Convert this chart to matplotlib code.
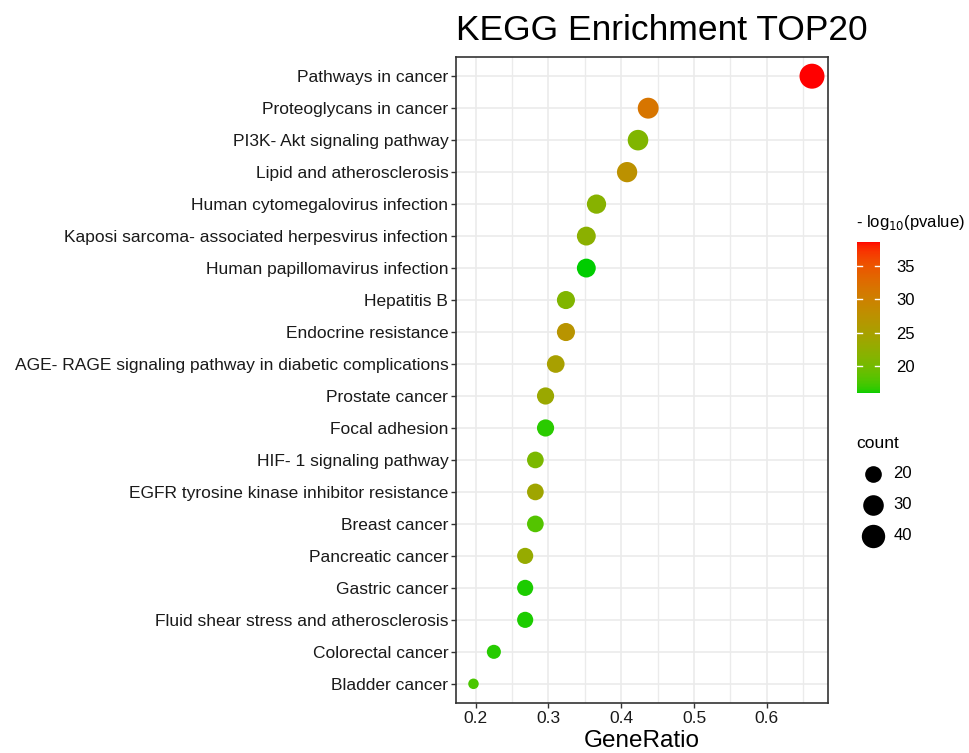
import matplotlib
matplotlib.use("Agg")
import matplotlib.pyplot as plt
import numpy as np
from matplotlib.colors import ListedColormap, Normalize, to_rgb

plt.rcParams['font.family'] = ['Liberation Sans', 'DejaVu Sans']

# data, top row first
terms = ["Pathways in cancer", "Proteoglycans in cancer", "PI3K- Akt signaling pathway",
         "Lipid and atherosclerosis", "Human cytomegalovirus infection",
         "Kaposi sarcoma- associated herpesvirus infection", "Human papillomavirus infection",
         "Hepatitis B", "Endocrine resistance",
         "AGE- RAGE signaling pathway in diabetic complications", "Prostate cancer",
         "Focal adhesion", "HIF- 1 signaling pathway",
         "EGFR tyrosine kinase inhibitor resistance", "Breast cancer", "Pancreatic cancer",
         "Gastric cancer", "Fluid shear stress and atherosclerosis", "Colorectal cancer",
         "Bladder cancer"]
counts = [47, 31, 30, 29, 26, 25, 25, 23, 23, 22, 21, 21, 20, 20, 20, 19, 19, 19, 16, 14]
gene_ratio = [0.662, 0.437, 0.423, 0.408, 0.366, 0.352, 0.352, 0.324, 0.324, 0.310,
              0.296, 0.296, 0.282, 0.282, 0.282, 0.268, 0.268, 0.268, 0.225, 0.197]
neglog_p = [38.6, 31.5, 21.0, 27.5, 21.5, 22.0, 15.9, 21.0, 27.0, 25.0,
            23.5, 16.5, 20.5, 24.0, 18.0, 23.0, 16.2, 16.2, 16.4, 17.5]
size_breaks = [20, 30, 40]
x_ticks = [0.2, 0.3, 0.4, 0.5, 0.6]
cbar_ticks = [20, 25, 30, 35]


# gradient interpolated in Lab space, like ggplot's scale_colour_gradient
def srgb_to_lab(c):
    c = np.asarray(c, float)
    lin = np.where(c <= 0.04045, c / 12.92, ((c + 0.055) / 1.055) ** 2.4)
    M = np.array([[0.4124, 0.3576, 0.1805], [0.2126, 0.7152, 0.0722], [0.0193, 0.1192, 0.9505]])
    xyz = M @ lin / np.array([0.95047, 1.0, 1.08883])
    d = 6 / 29
    f = np.where(xyz > d ** 3, np.cbrt(xyz), xyz / (3 * d * d) + 4 / 29)
    return np.array([116 * f[1] - 16, 500 * (f[0] - f[1]), 200 * (f[1] - f[2])])


def lab_to_srgb(lab):
    L, a, b = lab
    fy = (L + 16) / 116
    f = np.array([fy + a / 500, fy, fy - b / 200])
    d = 6 / 29
    xyz = np.where(f > d, f ** 3, 3 * d * d * (f - 4 / 29)) * np.array([0.95047, 1.0, 1.08883])
    Minv = np.array([[3.2406, -1.5372, -0.4986], [-0.9689, 1.8758, 0.0415], [0.0557, -0.2040, 1.0570]])
    lin = Minv @ xyz
    c = np.where(lin <= 0.0031308, 12.92 * lin, 1.055 * np.clip(lin, 0, None) ** (1 / 2.4) - 0.055)
    return np.clip(c, 0, 1)


lo, hi = srgb_to_lab(to_rgb("#00CD00")), srgb_to_lab(to_rgb("#FF0000"))
cmap = ListedColormap([lab_to_srgb(lo + t * (hi - lo)) for t in np.linspace(0, 1, 256)])
norm = Normalize(vmin=min(neglog_p), vmax=max(neglog_p))


def dot_size(c):
    cmin, cmax = min(counts), max(counts)
    d = 10.5 + 14.5 * np.sqrt((np.asarray(c, float) - cmin) / (cmax - cmin))
    return (d * 0.72) ** 2


fig = plt.figure(figsize=(9.69, 7.53), dpi=100)
ax = fig.add_axes([0.4706, 0.0664, 0.3839, 0.8579])

n = len(terms)
ypos = np.arange(n)[::-1]
sc = ax.scatter(gene_ratio, ypos, s=dot_size(counts), c=neglog_p, cmap=cmap, norm=norm,
                linewidths=0, zorder=3)

ax.set_xlim(0.173, 0.684)
ax.set_ylim(-0.6, n - 0.4)
ax.set_yticks(ypos)
ax.set_yticklabels(terms)
ax.set_xticks(x_ticks)
ax.set_xticklabels([f"{v:g}" for v in x_ticks])
ax.set_xticks([0.25, 0.35, 0.45, 0.55, 0.65], minor=True)
ax.grid(True, which='major', color='#EBEBEB', linewidth=1.2, zorder=0)
ax.grid(True, which='minor', axis='x', color='#EBEBEB', linewidth=1.0, zorder=0)
ax.set_axisbelow(True)
ax.tick_params(axis='both', which='major', length=3.5, width=1.0, color='#333333',
               labelsize=12.5, labelcolor='#1a1a1a', pad=2)
ax.tick_params(axis='x', which='minor', length=0)
for sp in ax.spines.values():
    sp.set_color('#333333')
    sp.set_linewidth(1.2)
ax.set_xlabel("GeneRatio", fontsize=17.5, labelpad=3)
ax.set_title("KEGG Enrichment TOP20", fontsize=25.5, pad=12, x=0.552)

# colour bar
cax = fig.add_axes([0.8844, 0.4777, 0.0237, 0.2013])
cb = fig.colorbar(sc, cax=cax)
cb.outline.set_visible(False)
cb.set_ticks(cbar_ticks)
cax.tick_params(length=0, labelsize=12, pad=12)
for t in cbar_ticks:
    cax.plot([0, 0.2], [t, t], color='white', lw=1, transform=cax.get_yaxis_transform())
    cax.plot([0.8, 1], [t, t], color='white', lw=1, transform=cax.get_yaxis_transform())
fig.text(0.883, 0.692, r"- log$_{10}$(pvalue)", fontsize=12, ha='left', va='bottom')

# size legend
handles = [ax.scatter([], [], s=dot_size(v), color='black', linewidths=0) for v in size_breaks]
leg = fig.legend(handles, [str(v) for v in size_breaks], title="count", loc='upper left',
                 bbox_to_anchor=(0.872, 0.437), frameon=False, fontsize=12,
                 title_fontsize=12.5, labelspacing=0.95, handletextpad=0.2,
                 borderpad=0.2)
leg._legend_box.align = "left"

fig.savefig("out.png", dpi=100)
